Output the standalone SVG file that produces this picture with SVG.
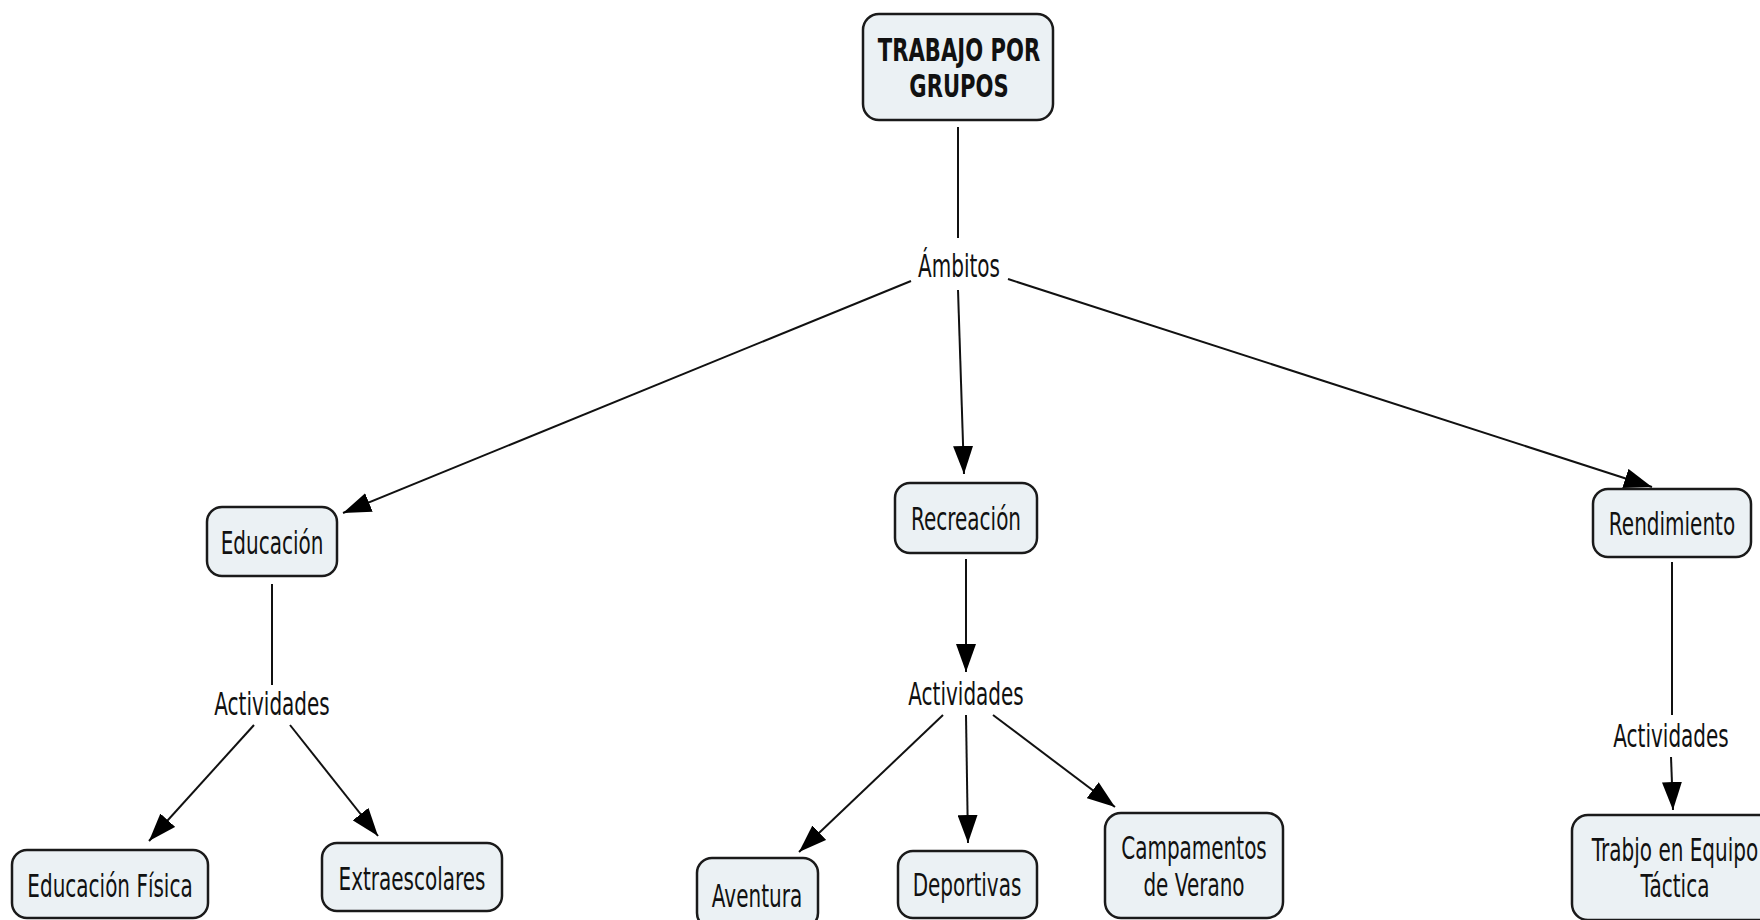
<svg xmlns="http://www.w3.org/2000/svg" width="1760" height="920" viewBox="0 0 1760 920">
<defs>
<style>
.box{fill:#ebf1f4;stroke:#1a1a1a;stroke-width:2.5}
.t{font-family:"DejaVu Sans",sans-serif;font-size:32px;fill:#111;text-anchor:middle}
.b{font-weight:bold}
.ln{stroke:#111;stroke-width:2;fill:none}
.ar{marker-end:url(#ah)}
</style>
<marker id="ah" markerUnits="userSpaceOnUse" markerWidth="28" markerHeight="20" refX="28" refY="10" orient="auto">
<path d="M0,0 L28,10 L0,20 z" fill="#000"/>
</marker>
</defs>
<rect width="1760" height="920" fill="#fff"/>
<g id="connectors">
<line class="ln" x1="958" y1="127" x2="958" y2="238"/>
<line class="ln ar" x1="911" y1="281" x2="343" y2="513"/>
<line class="ln ar" x1="958" y1="290" x2="964" y2="474"/>
<line class="ln ar" x1="1008" y1="279" x2="1652" y2="487"/>
<line class="ln" x1="272" y1="584" x2="272" y2="685"/>
<line class="ln ar" x1="254" y1="725" x2="149" y2="841"/>
<line class="ln ar" x1="290" y1="725" x2="378" y2="836"/>
<line class="ln ar" x1="966" y1="559" x2="966" y2="672"/>
<line class="ln ar" x1="943" y1="715" x2="799" y2="852"/>
<line class="ln ar" x1="966" y1="715" x2="968" y2="843"/>
<line class="ln ar" x1="993" y1="715" x2="1115" y2="807"/>
<line class="ln" x1="1672" y1="562" x2="1672" y2="715"/>
<line class="ln ar" x1="1671" y1="757" x2="1673" y2="810"/>
</g>
<g id="n-trabajo">
<rect class="box" x="863" y="14" width="190" height="106" rx="16"/>
<text class="t b" transform="translate(959,61) scale(0.66,1)">TRABAJO POR</text>
<text class="t b" transform="translate(959,97) scale(0.66,1)">GRUPOS</text>
</g>
<g id="l-ambitos">
<text class="t" transform="translate(959,277) scale(0.625,1)">Ámbitos</text>
</g>
<g id="n-educacion">
<rect class="box" x="207" y="507" width="130" height="69" rx="15"/>
<text class="t" transform="translate(272,554) scale(0.625,1)">Educación</text>
</g>
<g id="n-recreacion">
<rect class="box" x="895" y="483" width="142" height="70" rx="15"/>
<text class="t" transform="translate(966,530) scale(0.625,1)">Recreación</text>
</g>
<g id="n-rendimiento">
<rect class="box" x="1593" y="489" width="158" height="68" rx="15"/>
<text class="t" transform="translate(1672,535) scale(0.625,1)">Rendimiento</text>
</g>
<g id="l-act-edu">
<text class="t" transform="translate(272,715) scale(0.625,1)">Actividades</text>
</g>
<g id="l-act-rec">
<text class="t" transform="translate(966,705) scale(0.625,1)">Actividades</text>
</g>
<g id="l-act-rend">
<text class="t" transform="translate(1671,747) scale(0.625,1)">Actividades</text>
</g>
<g id="n-edfisica">
<rect class="box" x="12" y="850" width="196" height="68" rx="15"/>
<text class="t" transform="translate(110,897) scale(0.625,1)">Educación Física</text>
</g>
<g id="n-extraescolares">
<rect class="box" x="322" y="843" width="180" height="68" rx="15"/>
<text class="t" transform="translate(412,890) scale(0.625,1)">Extraescolares</text>
</g>
<g id="n-aventura">
<rect class="box" x="697" y="858" width="121" height="70" rx="15"/>
<text class="t" transform="translate(757,907) scale(0.625,1)">Aventura</text>
</g>
<g id="n-deportivas">
<rect class="box" x="898" y="851" width="139" height="67" rx="15"/>
<text class="t" transform="translate(967,896) scale(0.625,1)">Deportivas</text>
</g>
<g id="n-campamentos">
<rect class="box" x="1105" y="813" width="178" height="105" rx="16"/>
<text class="t" transform="translate(1194,859) scale(0.625,1)">Campamentos</text>
<text class="t" transform="translate(1194,896) scale(0.625,1)">de Verano</text>
</g>
<g id="n-trabjo">
<rect class="box" x="1572" y="815" width="210" height="105" rx="16"/>
<text class="t" transform="translate(1675,861) scale(0.625,1)">Trabjo en Equipo</text>
<text class="t" transform="translate(1675,897) scale(0.625,1)">Táctica</text>
</g>
</svg>
